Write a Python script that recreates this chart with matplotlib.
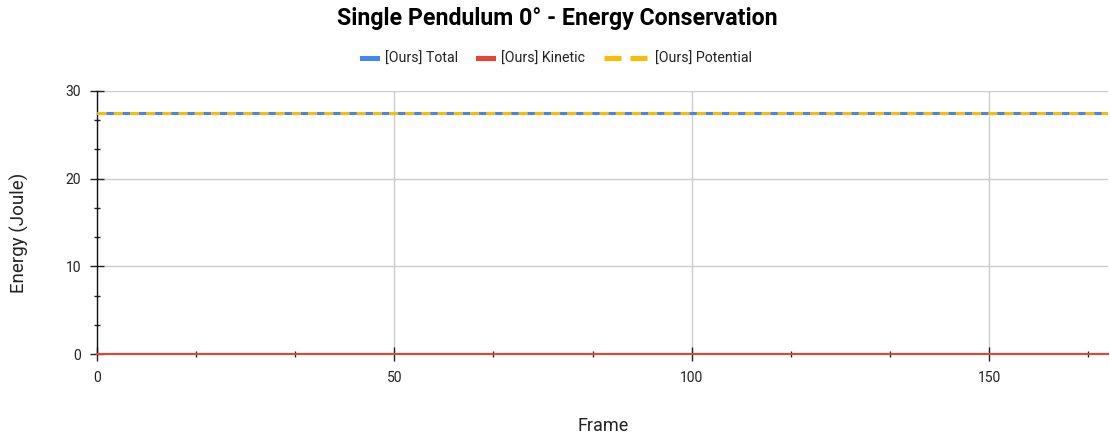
import matplotlib
matplotlib.use("Agg")
import matplotlib.pyplot as plt
from matplotlib.lines import Line2D
from matplotlib.ticker import MultipleLocator

plt.rcParams['font.family'] = ['Roboto', 'DejaVu Sans']

# data (flat lines)
frames = [0, 170]
total = [27.44, 27.44]
kinetic = [0.0, 0.0]
potential = [27.44, 27.44]

labels = ["[Ours] Total", "[Ours] Kinetic", "[Ours] Potential"]
colors = ["#4285F4", "#EA4335", "#FBBC04"]

fig = plt.figure(figsize=(11.1, 4.36), dpi=100)
ax = fig.add_axes([97 / 1110, 1 - 354 / 436, (1108 - 97) / 1110, (354 - 91) / 436])

ax.plot(frames, total, color=colors[0], lw=2.2, zorder=3)
ax.plot(frames, kinetic, color=colors[1], lw=1.5, zorder=3, clip_on=False)
ax.plot(frames, potential, color=colors[2], lw=2.2, dashes=(3, 2.3), zorder=4)

ax.set_xlim(0, 170)
ax.set_ylim(0, 30)
ax.xaxis.set_major_locator(MultipleLocator(50))
ax.xaxis.set_minor_locator(MultipleLocator(50 / 3))
ax.yaxis.set_major_locator(MultipleLocator(10))
ax.yaxis.set_minor_locator(MultipleLocator(10 / 3))

ax.grid(True, which='major', color='#cccccc', lw=1.0, zorder=0)
ax.set_axisbelow(True)
for s in ['top', 'right', 'bottom']:
    ax.spines[s].set_visible(False)
ax.spines['left'].set_color('#111111')
ax.spines['left'].set_linewidth(1.0)

ax.tick_params(which='major', direction='inout', length=10, width=1.0, color='#222222',
               labelsize=10, labelcolor='#222222')
ax.tick_params(which='minor', direction='inout', length=4.3, width=1.0, color='#222222')
ax.tick_params(axis='x', which='major', pad=7.5)
ax.tick_params(axis='y', which='major', pad=6.5)

ax.set_xlabel("Frame", fontsize=13, color='#222222')
ax.set_ylabel("Energy (Joule)", fontsize=13.5, color='#222222')
ax.xaxis.set_label_coords(0.5005, -0.274)
ax.xaxis.label.set_va('center')
ax.yaxis.set_label_coords(-0.077, 0.46)
ax.yaxis.label.set_va('center')

fig.suptitle("Single Pendulum 0° - Energy Conservation", fontsize=16.7, fontweight='bold',
             x=557 / 1110, y=1 - 18 / 436, va='center')

# legend: one small legend per entry so the dashed one can have a longer handle
handles = [
    Line2D([], [], color=colors[0], lw=3.6),
    Line2D([], [], color=colors[1], lw=3.6),
    Line2D([], [], color=colors[2], lw=3.6, dashes=(3.4, 1.8)),
]
starts = [362, 478, 604]
hlens = [1.06, 1.06, 3.03]
for h, lab, x0, hl in zip(handles, labels, starts, hlens):
    leg = fig.legend([h], [lab], loc='center left', bbox_to_anchor=(x0 / 1110, 1 - 59 / 436),
                     frameon=False, fontsize=10.2, handlelength=hl, handletextpad=0.56,
                     borderpad=0, borderaxespad=0, labelcolor='#222222')

fig.savefig("out.png", dpi=100)
